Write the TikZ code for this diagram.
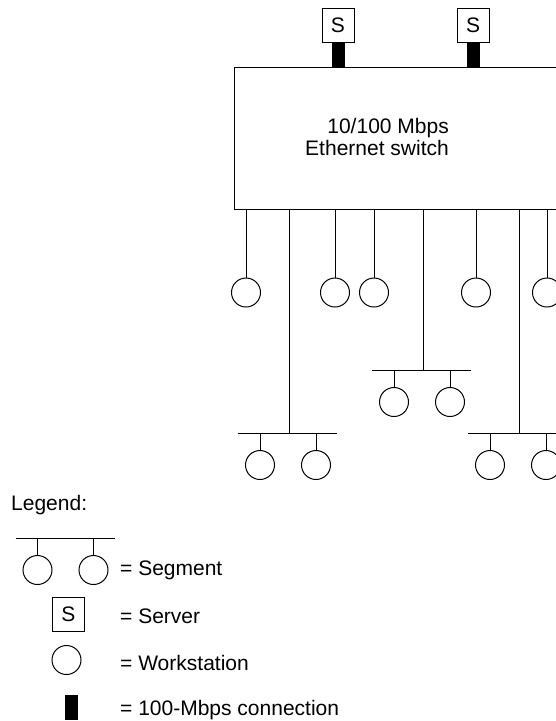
\documentclass[tikz,border=0pt]{standalone}
\usepackage{fontspec}
\setmainfont{Liberation Sans}
\usetikzlibrary{positioning, calc}

\begin{document}
\begin{tikzpicture}[x=1pt, y=-1pt,
    hub/.style={rectangle, draw, line width=1pt, minimum width=346pt, minimum height=142pt, inner sep=0pt},
    server/.style={rectangle, draw, line width=1pt, fill=white, minimum width=32pt, minimum height=34pt, inner sep=0pt, font=\fontsize{21}{24}\selectfont},
    station/.style={circle, draw, line width=1pt, minimum size=29pt, inner sep=0pt},
    fast/.style={rectangle, fill=black, minimum width=13pt, minimum height=25pt, inner sep=0pt},
    wire/.style={line width=1pt},
    fastwire/.style={line width=13pt},
    txt/.style={font=\fontsize{21}{22}\selectfont, inner sep=0pt}
]
\clip (0,0) rectangle (556,721);

% switch with its two servers
\node[hub] (switch) at (407,138) {};
\node[txt, align=right, anchor=east] (switchtext) at (449,137) {10/100 Mbps\\Ethernet switch};
\node[server] (srvA) at (338,25) {S};
\node[server] (srvB) at (473,25) {S};
\draw[fastwire] (srvA.south) -- (srvA.south |- switch.north);
\draw[fastwire] (srvB.south) -- (srvB.south |- switch.north);

% workstations on their own port
\foreach \x/\n in {246/wsA, 335/wsB, 374/wsC, 476/wsD, 547/wsE} {
  \node[station] (\n) at (\x,292.5) {};
  \draw[wire] (\n.north) -- (\n.north |- switch.south);
}

% shared segments
\foreach \x/\y/\n in {289/433/A, 423/370/B, 519/433/C} {
  \coordinate (seg\n) at (\x,\y);
  \draw[wire] (seg\n) -- (seg\n |- switch.south);
  \draw[wire] ($(seg\n)+(-51,0)$) -- ($(seg\n)+(48,0)$);
  \node[station] (seg\n L) at ($(seg\n)+(-29,32)$) {};
  \node[station] (seg\n R) at ($(seg\n)+(27,32)$) {};
  \draw[wire] (seg\n L.north) -- (seg\n L.north |- seg\n);
  \draw[wire] (seg\n R.north) -- (seg\n R.north |- seg\n);
}

% legend
\node[txt, anchor=base west] (legend) at (11,510) {Legend:};
\coordinate (legseg) at (66.5,538);
\draw[wire] ($(legseg)+(-51,0)$) -- ($(legseg)+(48,0)$);
\node[station] (legsegL) at ($(legseg)+(-29,32)$) {};
\node[station] (legsegR) at ($(legseg)+(27,32)$) {};
\draw[wire] (legsegL.north) -- (legsegL.north |- legseg);
\draw[wire] (legsegR.north) -- (legsegR.north |- legseg);
\node[server] (legsrv) at (68.5,614) {S};
\node[station] (legws) at (66.5,660) {};
\node[fast] (legfast) at (71,707) {};
\node[txt, anchor=base west] (txtseg) at (120,575) {= Segment};
\node[txt, anchor=base west] (txtsrv) at (120,623) {= Server};
\node[txt, anchor=base west] (txtws) at (120,670) {= Workstation};
\node[txt, anchor=base west] (txtfast) at (120,715) {= 100-Mbps connection};
\end{tikzpicture}
\end{document}
